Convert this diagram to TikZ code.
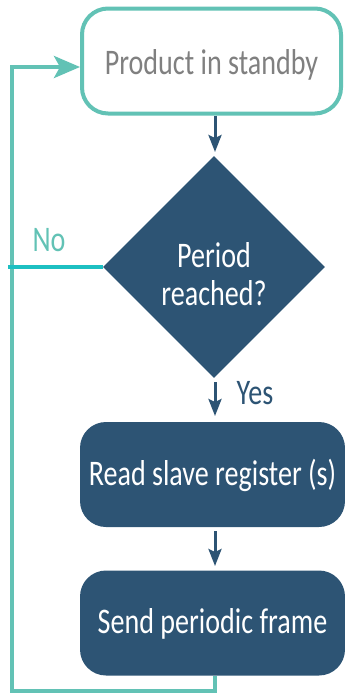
\documentclass[tikz,border=0pt]{standalone}
\usepackage{fontspec}
\setmainfont{Carlito}[FakeStretch=0.78]
\usetikzlibrary{arrows.meta,shapes.geometric,positioning}
\definecolor{navy}{HTML}{2D5474}
\definecolor{teal}{HTML}{62C2B5}
\definecolor{cyanno}{HTML}{1DC0C2}

\begin{document}
\begin{tikzpicture}[
  x=1pt, y=-1pt,
  font=\fontsize{36}{38}\selectfont,
  termbox/.style={draw=teal, line width=4pt, fill=white, rounded corners=26pt,
    minimum width=259pt, minimum height=105pt, text=black!50,
    text height=26pt, text depth=0pt},
  procbox/.style={fill=navy, rounded corners=26pt, minimum width=265pt,
    minimum height=105pt, text=white, text height=21pt, text depth=0pt},
  decision/.style={diamond, fill=navy, minimum width=222pt, minimum height=222pt,
    inner sep=0pt, text=white, align=center, text height=76pt, text depth=0pt},
  flow/.style={draw=navy, line width=3pt, -{Stealth[length=17pt,width=13pt,inset=3pt]}},
  loop/.style={draw=teal, line width=4pt},
]
\useasboundingbox (0,0) rectangle (345,694);

\node[termbox] (standby) at (211.5,61) {Product in standby};
\node[decision] (period) at (214,267) {Period\\reached?};
\node[procbox] (readreg) at (212.5,474.5) {Read slave register (s)};
\node[procbox] (sendframe) at (212.5,623) {Send periodic frame};

\draw[flow] (standby.south -| 215,0) -- (215,152);
\draw[flow] (period.south) ++(1,4) -- (215,416);
\draw[flow] (readreg.south -| 215,0) ++(0,4) -- (215,566);

\node[text=navy] (yes) at (255,393) {Yes};
\node[text=teal] (no) at (49,240) {No};

\coordinate (corner) at (12,691);
\draw[loop, -{Stealth[length=26pt,width=22pt,inset=6pt]}]
  (sendframe.south -| 215,0) -- (215,691) -- (corner) -- (12,67)
  -- (standby.west |- 0,67);
\draw[draw=cyanno, line width=4pt] (period.west) -- (8,267);

\end{tikzpicture}
\end{document}
